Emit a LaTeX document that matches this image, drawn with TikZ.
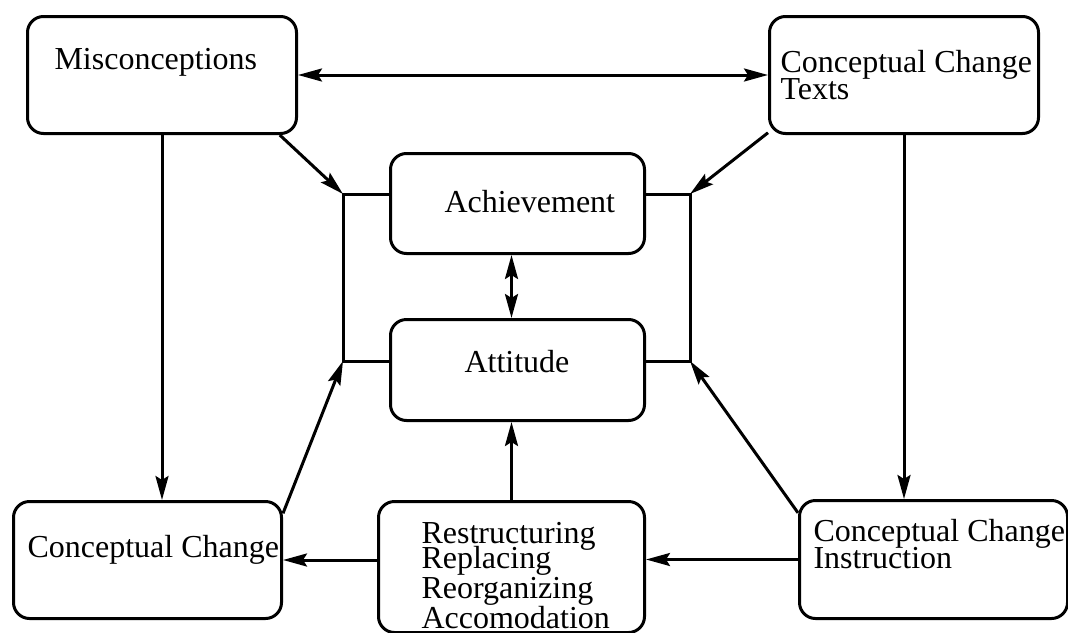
\documentclass[tikz,border=0pt]{standalone}
\usepackage{fontspec}
\setmainfont{Liberation Serif}
\usetikzlibrary{arrows.meta}
\newcommand\boxfont{\fontsize{32}{27}\selectfont\lineskiplimit=-20pt\relax}

\begin{document}
\begin{tikzpicture}[->, >={Stealth[length=24pt,width=13pt,inset=4pt]}, x=1pt, y=-1pt,
    line width=3pt,
    block/.style={draw, rounded corners=16pt, anchor=north west, inner sep=0pt},
    boxtext/.style={anchor=base west, inner sep=0pt, align=left, font=\boxfont}]
  \fill[white] (0,0) rectangle (1068,632);
  \useasboundingbox (0,0) rectangle (1068,632);
  \clip (0,0) rectangle (1068,632);

  \node [block, minimum width=269pt, minimum height=117pt] (mis) at (26,15) {};
  \node [block, minimum width=269pt, minimum height=117pt] (cct) at (768,15) {};
  \node [block, minimum width=254pt, minimum height=100pt] (ach) at (389,152) {};
  \node [block, minimum width=254pt, minimum height=101pt] (att) at (389,318) {};
  \node [block, minimum width=268pt, minimum height=117pt] (cc) at (12,500) {};
  \node [block, minimum width=266pt, minimum height=131pt] (rest) at (377,500) {};
  \node [block, minimum width=268pt, minimum height=118pt] (cci) at (798,499) {};

  % multi-line texts sit on the baseline of their last line
  \node [boxtext] (mis-t) at (53,69) {Misconceptions};
  \node [boxtext] (cct-t) at (779,99) {Conceptual Change\\Texts};
  \node [boxtext] (ach-t) at (443,212) {Achievement};
  \node [boxtext] (att-t) at (463,372) {Attitude};
  \node [boxtext] (cc-t) at (26,557) {Conceptual Change};
  \node [boxtext] (rest-t) at (420,628) {Restructuring\\[-2pt]Replacing\\[3pt]Reorganizing\\[3pt]Accomodation};
  \node [boxtext] (cci-t) at (812,568) {Conceptual Change\\Instruction};

  \coordinate (lt) at (343,194);
  \coordinate (lb) at (343,361);
  \coordinate (rt) at (690,194);
  \coordinate (rb) at (690,361);

  \draw [-] (ach.west |- lt) -- (lt) -- (lb) -- (att.west |- lb);
  \draw [-] (ach.east |- rt) -- (rt) -- (rb) -- (att.east |- rb);

  \draw [<->] (mis.east) -- (cct.west);
  \draw (mis.south) -- (mis.south |- cc.north);
  \draw (cct.south) -- (cct.south |- cci.north);
  \draw (mis.-27) -- (lt);
  \draw (cct.203) -- (rt);
  \draw (cc.19) -- (lb);
  \draw (cci.161) -- (rb);
  \draw [<->] (rest.north |- ach.south) -- (rest.north |- att.north);
  \draw (rest.north) -- (rest.north |- att.south);
  \draw (cci.west) -- (rest.east |- cci.west);
  \draw (rest.west |- cc.east) -- (cc.east);
\end{tikzpicture}
\end{document}
